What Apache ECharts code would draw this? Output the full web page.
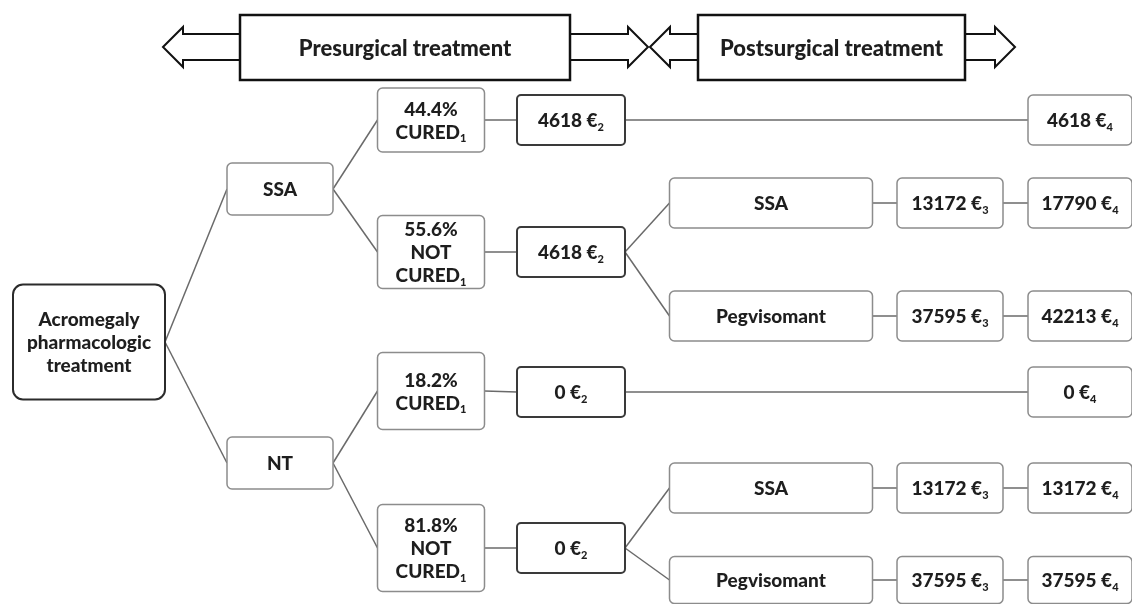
<!DOCTYPE html>
<html>
<head>
<meta charset="utf-8">
<script src="https://cdn.jsdelivr.net/npm/echarts@6/dist/echarts.min.js"></script>
<style>
html, body { margin: 0; padding: 0; background: #fff; }
#main { width: 1132px; height: 604px; }
</style>
</head>
<body>
<div id="main"></div>
<script>
// columns of the tree: centre and box width
const colX = [89, 280, 431, 571, 771, 950, 1080];
const colW = [152, 106, 107, 108, 203, 106, 104];

// nodes of the decision tree
const nodeLabels = [
    'Acromegaly\npharmacologic\ntreatment',
    'SSA', 'NT',
    '44.4%\nCURED{s|1}', '55.6%\nNOT\nCURED{s|1}',
    '4618 €{s|2}', '4618 €{s|4}',
    '4618 €{s|2}', 'SSA', '13172 €{s|3}', '17790 €{s|4}',
    'Pegvisomant', '37595 €{s|3}', '42213 €{s|4}',
    '18.2%\nCURED{s|1}', '0 €{s|2}', '0 €{s|4}',
    '81.8%\nNOT\nCURED{s|1}', '0 €{s|2}',
    'SSA', '13172 €{s|3}', '13172 €{s|4}',
    'Pegvisomant', '37595 €{s|3}', '37595 €{s|4}'
];
const nodeCol    = [0, 1, 1, 2, 2, 3, 6, 3, 4, 5, 6, 4, 5, 6, 2, 3, 6, 2, 3, 4, 5, 6, 4, 5, 6];
const nodeY      = [342, 189, 463, 120, 252, 120, 120, 252, 203, 203, 203, 316, 316, 316, 391, 392, 392, 548, 548, 488, 488, 488, 580, 580, 580];
const nodeH      = [115, 52, 52, 64, 73, 50, 50, 50, 50, 50, 50, 50, 50, 50, 77, 50, 50, 87, 50, 50, 50, 50, 47, 47, 47];
const nodeParent = [-1, 0, 0, 1, 1, 3, 5, 4, 7, 8, 9, 7, 11, 12, 2, 14, 15, 2, 17, 18, 19, 20, 18, 22, 23];
const nodeKind   = ['root', 'box', 'box', 'box', 'box', 'cost', 'box', 'cost', 'box', 'box', 'box', 'box', 'box', 'box',
                    'box', 'cost', 'box', 'box', 'cost', 'box', 'box', 'box', 'box', 'box', 'box'];

// phase banners on top
const phaseNames = ['Presurgical treatment', 'Postsurgical treatment'];
const phaseArrow = [[163, 648], [650, 1015]];
const phaseBox   = [[240, 570], [698, 965]];
const phaseY = 47;

const FONT = 'Lato, "Open Sans", sans-serif';

const kindStyle = {
    root: { stroke: '#2b2b2b', lineWidth: 2, r: 10 },
    cost: { stroke: '#3a3a3a', lineWidth: 2, r: 4 },
    box:  { stroke: '#8c8c8c', lineWidth: 1.5, r: 5 }
};

const myChart = echarts.init(document.getElementById('main'));

function renderNode(params, api) {
    const i = params.dataIndex;
    const c = nodeCol[i];
    const p = api.coord([colX[c], nodeY[i]]);
    const s = api.size([colW[c], nodeH[i]]);
    const st = kindStyle[nodeKind[i]];
    return {
        type: 'group',
        children: [{
            type: 'rect',
            shape: { x: p[0] - s[0] / 2, y: p[1] - s[1] / 2, width: s[0], height: s[1], r: st.r },
            style: { fill: '#fff', stroke: st.stroke, lineWidth: st.lineWidth }
        }, {
            type: 'text',
            style: {
                text: nodeLabels[i],
                x: p[0], y: p[1] + 1,
                align: 'center', verticalAlign: 'middle',
                fontFamily: FONT, fontWeight: 900, fontSize: 19,
                lineHeight: 23, fill: '#1e1e1e',
                rich: {
                    s: { fontFamily: FONT, fontWeight: 900, fontSize: 11, verticalAlign: 'bottom', lineHeight: 21, fill: '#1e1e1e' }
                }
            }
        }]
    };
}

function renderEdge(params, api) {
    const i = params.dataIndex + 1;
    const par = nodeParent[i];
    const a = api.coord([colX[nodeCol[par]] + colW[nodeCol[par]] / 2, nodeY[par]]);
    const b = api.coord([colX[nodeCol[i]] - colW[nodeCol[i]] / 2, nodeY[i]]);
    return {
        type: 'line',
        shape: { x1: a[0], y1: a[1], x2: b[0], y2: b[1] },
        style: { stroke: '#6a6a6a', lineWidth: 1.5 }
    };
}

function renderPhase(params, api) {
    const i = params.dataIndex;
    const l = api.coord([phaseArrow[i][0], phaseY]);
    const r = api.coord([phaseArrow[i][1], phaseY]);
    const b0 = api.coord([phaseBox[i][0], 15]);
    const b1 = api.coord([phaseBox[i][1], 80]);
    const y = l[1], sh = 13, hh = 20, hl = 20;
    const pts = [
        [l[0], y], [l[0] + hl, y - hh], [l[0] + hl, y - sh], [r[0] - hl, y - sh], [r[0] - hl, y - hh],
        [r[0], y], [r[0] - hl, y + hh], [r[0] - hl, y + sh], [l[0] + hl, y + sh], [l[0] + hl, y + hh]
    ];
    return {
        type: 'group',
        children: [{
            type: 'polygon',
            shape: { points: pts },
            style: { fill: '#fff', stroke: '#111', lineWidth: 2 }
        }, {
            type: 'rect',
            shape: { x: b0[0], y: b0[1], width: b1[0] - b0[0], height: b1[1] - b0[1] },
            style: { fill: '#fff', stroke: '#111', lineWidth: 2.5 }
        }, {
            type: 'text',
            style: {
                text: phaseNames[i],
                x: (b0[0] + b1[0]) / 2, y: (b0[1] + b1[1]) / 2 + 1,
                align: 'center', verticalAlign: 'middle',
                fontFamily: FONT, fontWeight: 900, fontSize: 22, fill: '#1e1e1e'
            }
        }]
    };
}

myChart.setOption({
    animation: false,
    grid: { left: 0, right: 0, top: 0, bottom: 0 },
    xAxis: { type: 'value', min: 0, max: 1132, show: false },
    yAxis: { type: 'value', min: 0, max: 604, inverse: true, show: false },
    series: [
        {
            type: 'custom',
            renderItem: renderEdge,
            data: nodeParent.slice(1)
        },
        {
            type: 'custom',
            renderItem: renderNode,
            data: nodeLabels.map((t, i) => [colX[nodeCol[i]], nodeY[i]])
        },
        {
            type: 'custom',
            renderItem: renderPhase,
            data: phaseNames.map((t, i) => [phaseArrow[i][0], phaseY])
        }
    ]
});

window.addEventListener('resize', () => {
    myChart.resize()
})
</script>
</body>
</html>
